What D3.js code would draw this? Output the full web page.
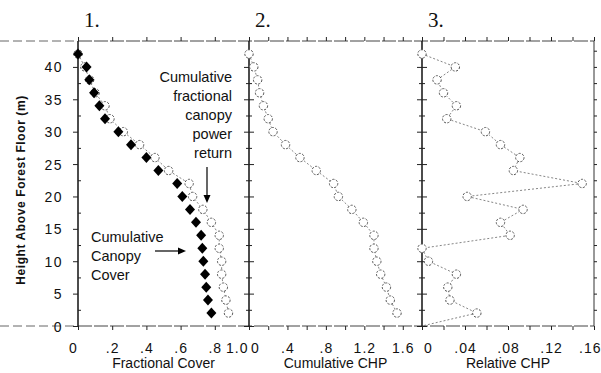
<!DOCTYPE html>
<meta charset="utf-8">
<style>
  body { margin: 0; background: #fff; }
  svg { display: block; }
  .tick text, .lbl { font-family: "Liberation Sans", Arial, sans-serif; fill: #111; }
  .domain { display: none; }
  .tick line { stroke: #222; }
</style>
<svg width="601" height="373"></svg>
<script src="https://cdn.jsdelivr.net/npm/d3@7"></script>
<script>

  // heights of the samples (m)
  var heights = [42, 40, 38, 36, 34, 32, 30, 28, 26, 24, 22, 20, 18, 16, 14, 12, 10, 8, 6, 4, 2];
  // panel 1: cumulative canopy cover (diamonds) and cumulative fractional canopy power return (circles)
  var canopyCover = [0.0, 0.05, 0.066, 0.094, 0.125, 0.158, 0.236, 0.31, 0.40, 0.47, 0.58, 0.61, 0.655, 0.69, 0.72, 0.727, 0.733, 0.743, 0.75, 0.76, 0.78];
  var powerReturn = [0.0, 0.04, 0.068, 0.10, 0.158, 0.187, 0.265, 0.36, 0.45, 0.53, 0.65, 0.67, 0.73, 0.78, 0.826, 0.826, 0.84, 0.84, 0.85, 0.865, 0.88];
  // panel 2: cumulative CHP
  var cumCHP = [0.0, 0.05, 0.09, 0.11, 0.15, 0.20, 0.25, 0.38, 0.53, 0.70, 0.88, 0.93, 1.07, 1.19, 1.30, 1.30, 1.33, 1.37, 1.43, 1.47, 1.54];
  // panel 3: relative CHP (runs down to the floor)
  var relHeights = [42, 40, 38, 36, 34, 32, 30, 28, 26, 24, 22, 20, 18, 16, 14, 12, 10, 8, 6, 4, 2, 0];
  var relCHP = [0.0, 0.031, 0.014, 0.020, 0.032, 0.023, 0.059, 0.073, 0.091, 0.085, 0.149, 0.042, 0.094, 0.073, 0.082, 0.0, 0.006, 0.032, 0.024, 0.026, 0.051, 0.0];

  var yTicks = [0, 5, 10, 15, 20, 25, 30, 35, 40];
  var x1Labels = [0, 0.2, 0.4, 0.6, 0.8, 1.0];
  var x2Labels = [0, 0.4, 0.8, 1.2, 1.6];
  var x3Labels = [0, 0.04, 0.08, 0.12, 0.16];

  var svg = d3.select("svg");
  var top_ = 41, bottom = 326;

  var y = d3.scaleLinear().domain([0, 44]).range([bottom, top_]);
  var x1 = d3.scaleLinear().domain([0, 1]).range([78, 249]);
  var x2 = d3.scaleLinear().domain([0, 1.8]).range([249, 422]);
  var x3 = d3.scaleLinear().domain([0, 0.16]).range([422, 594]);

  function noZero(d) {
    if (d === 0) return "0";
    if (d === 1) return "1.0";
    return d3.format("")(+d.toFixed(2)).replace(/^0\./, ".");
  }

  // frame lines across the top and bottom
  [top_, bottom].forEach(function (yy) {
    svg.append("line").attr("x1", 0).attr("x2", 78).attr("y1", yy).attr("y2", yy)
      .attr("stroke", "#666").attr("stroke-dasharray", "9,4");
    svg.append("line").attr("x1", 78).attr("x2", 594).attr("y1", yy).attr("y2", yy)
      .attr("stroke", "#444").attr("stroke-dasharray", "14,2");
  });

  var panels = [
    { x: x1, step: 0.2, labels: x1Labels, title: "Fractional Cover", num: "1." },
    { x: x2, step: 0.2, labels: x2Labels, title: "Cumulative CHP", num: "2." },
    { x: x3, step: 0.02, labels: x3Labels, title: "Relative CHP", num: "3." }
  ];

  panels.forEach(function (p, i) {
    var dom = p.x.domain();
    var ticks = d3.range(0, dom[1] + 1e-9, p.step);
    var last = p.labels[p.labels.length - 1];

    // top and bottom tick marks
    svg.append("g").attr("transform", "translate(0," + top_ + ")")
      .call(d3.axisTop(p.x).tickValues(ticks).tickSize(4).tickFormat(""));
    svg.append("g").attr("transform", "translate(0," + bottom + ")")
      .call(d3.axisBottom(p.x).tickValues(ticks).tickSize(4).tickFormat(""));

    // bottom tick labels
    var lab = svg.append("g").attr("transform", "translate(0," + (bottom + 14) + ")")
      .call(d3.axisBottom(p.x).tickValues(p.labels).tickSize(0).tickFormat(noZero));
    lab.selectAll("text").style("font-size", "14px").style("letter-spacing", "1px")
      .attr("dx", function (d) {
        if (d === 0) return i === 0 ? -5 : 6;
        return 0;
      })
      .attr("text-anchor", function (d) {
        if (i === 0 && d === 1) return "end";
        if (i === 2 && d === last) return "end";
        return "middle";
      })
      .attr("x", function (d) {
        if (i === 0 && d === 1) return -1;
        if (i === 2 && d === last) return 7;
        return 0;
      });

    // axis title
    svg.append("text").attr("class", "lbl")
      .attr("x", (p.x.range()[0] + p.x.range()[1]) / 2)
      .attr("y", 368).attr("text-anchor", "middle")
      .style("font-size", "14px").text(p.title);

    // panel number
    svg.append("text")
      .attr("x", p.x.range()[0] + 6).attr("y", 27)
      .style("font-family", "'Liberation Serif', 'DejaVu Serif', serif")
      .style("font-size", "21px").attr("fill", "#111").text(p.num);

    // left axis of the panel
    var x0 = p.x.range()[0];
    svg.append("line").attr("x1", x0).attr("x2", x0).attr("y1", top_).attr("y2", bottom)
      .attr("stroke", "#111").attr("stroke-width", 1.5);
    var yMinor = d3.range(2.5, 43, 5);
    if (i === 0) {
      svg.append("g").attr("transform", "translate(" + x0 + ",0)")
        .call(d3.axisLeft(y).tickValues(yTicks).tickSize(5).tickFormat(""));
      svg.append("g").attr("transform", "translate(" + x0 + ",0)")
        .call(d3.axisRight(y).tickValues(yMinor).tickSize(3).tickFormat(""));
    } else {
      svg.append("g").attr("transform", "translate(" + x0 + ",0)")
        .call(d3.axisLeft(y).tickValues(yTicks).tickSize(5).tickFormat(""))
        .selectAll(".tick line").attr("x2", 5).attr("x1", -5);
      svg.append("g").attr("transform", "translate(" + x0 + ",0)")
        .call(d3.axisLeft(y).tickValues(yMinor).tickSize(3).tickFormat(""))
        .selectAll(".tick line").attr("x2", 3).attr("x1", -3);
    }
  });

  // right edge
  svg.append("line").attr("x1", 594).attr("x2", 594).attr("y1", top_).attr("y2", bottom)
    .attr("stroke", "#333").attr("stroke-width", 1);
  svg.append("g").attr("transform", "translate(594,0)")
    .call(d3.axisRight(y).tickValues(d3.range(2.5, 43, 2.5)).tickSize(3).tickFormat(""))
    .selectAll(".tick line").attr("stroke", "#555");

  // y tick labels
  var yl = svg.append("g").attr("transform", "translate(66,0)")
    .call(d3.axisLeft(y).tickValues(yTicks).tickSize(0).tickFormat(d3.format("d")));
  yl.selectAll("text").style("font-size", "14px").style("letter-spacing", "1.5px").attr("dy", "0.36em");

  // y title
  svg.append("text").attr("class", "lbl")
    .attr("transform", "translate(25," + 190 + ") rotate(-90)")
    .attr("text-anchor", "middle").style("font-size", "12px").style("font-weight", "bold")
    .style("letter-spacing", "0.6px")
    .text("Height Above Forest Floor (m)");

  // series helpers
  function dottedSeries(xs, hs, vals, withCircle) {
    var pts = hs.map(function (h, k) { return [xs(vals[k]), y(h)]; });
    svg.append("path").attr("d", d3.line()(pts))
      .attr("fill", "none").attr("stroke", "#777").attr("stroke-width", 0.9)
      .attr("stroke-dasharray", "2,2");
    svg.append("g").selectAll("circle")
      .data(pts.filter(function (p, k) { return withCircle(hs[k]); }))
      .enter().append("circle")
      .attr("cx", function (d) { return d[0]; })
      .attr("cy", function (d) { return d[1]; })
      .attr("r", 4.2)
      .attr("fill", "#fff").attr("stroke", "#555").attr("stroke-width", 1)
      .attr("stroke-dasharray", "2.2,1.4");
  }

  dottedSeries(x1, heights, powerReturn, function () { return true; });
  dottedSeries(x2, heights, cumCHP, function () { return true; });
  dottedSeries(x3, relHeights, relCHP, function (h) { return h > 0; });

  // diamonds
  svg.append("g").selectAll("path")
    .data(heights)
    .enter().append("path")
    .attr("transform", function (h, k) { return "translate(" + x1(canopyCover[k]) + "," + y(h) + ")"; })
    .attr("d", "M0,-5.5L5,0L0,5.5L-5,0Z")
    .attr("fill", "#000");

  // annotations
  var ann1 = ["Cumulative", "fractional", "canopy", "power", "return"];
  svg.append("g").selectAll("text").data(ann1).enter().append("text")
    .attr("class", "lbl").attr("x", 232).attr("y", function (d, k) { return 82 + k * 19; })
    .attr("text-anchor", "end").style("font-size", "14.5px").text(function (d) { return d; });

  var ann2 = ["Cumulative", "Canopy", "Cover"];
  svg.append("g").selectAll("text").data(ann2).enter().append("text")
    .attr("class", "lbl").attr("x", 91).attr("y", function (d, k) { return 242 + k * 19; })
    .attr("text-anchor", "start").style("font-size", "14.5px").text(function (d) { return d; });

  // arrows
  svg.append("line").attr("x1", 207).attr("x2", 207).attr("y1", 167).attr("y2", 197)
    .attr("stroke", "#000").attr("stroke-width", 1.2);
  svg.append("path").attr("d", "M203.5,195L210.5,195L207,203Z").attr("fill", "#000");
  svg.append("line").attr("x1", 155).attr("x2", 180).attr("y1", 251).attr("y2", 251)
    .attr("stroke", "#000").attr("stroke-width", 1.2);
  svg.append("path").attr("d", "M178,247.5L178,254.5L186,251Z").attr("fill", "#000");

</script>
